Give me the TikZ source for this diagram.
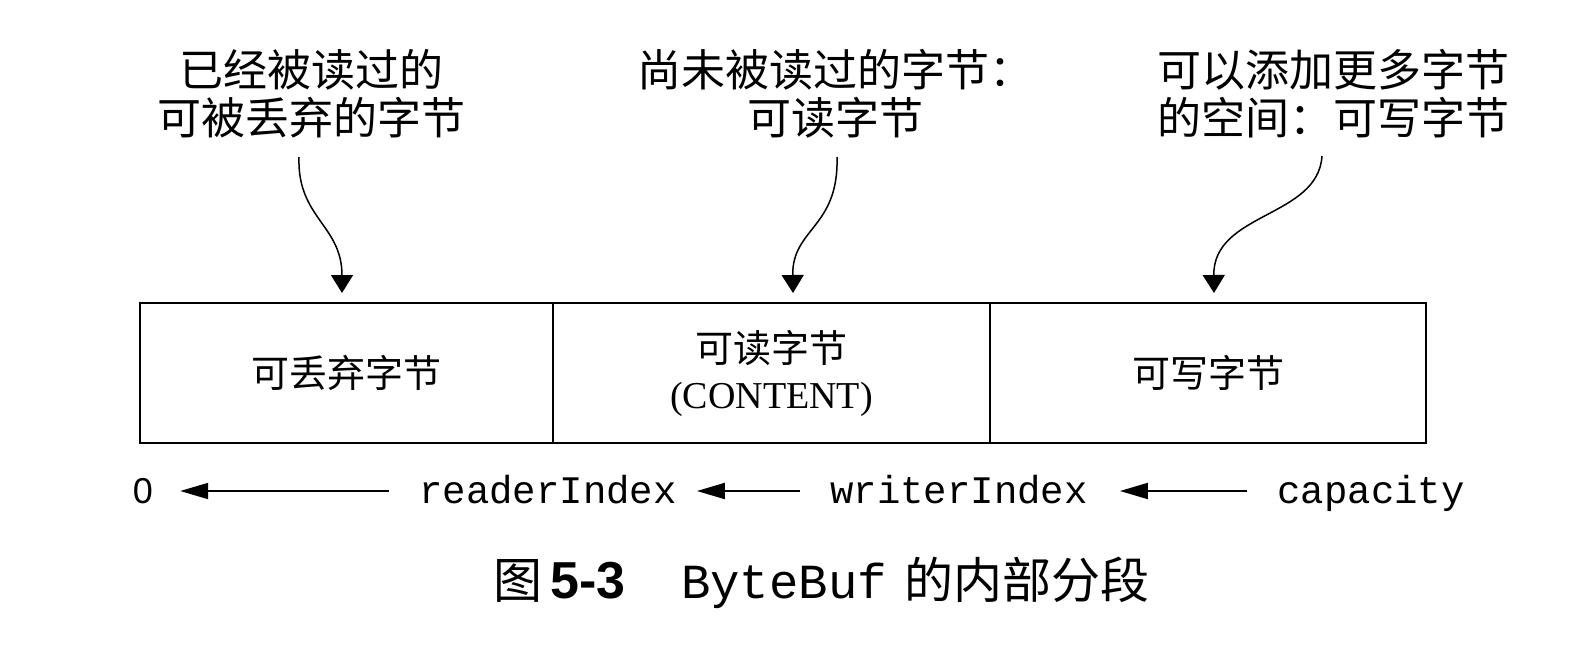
\documentclass[tikz,border=0pt]{standalone}
\usepackage{fontspec}
\setmainfont{Liberation Serif}
\setmonofont{Liberation Mono}
\newfontfamily\cjk{Noto Sans CJK SC}
\newfontfamily\arialf{Liberation Sans}
\usetikzlibrary{arrows.meta}
\begin{document}
\begin{tikzpicture}[x=1pt,y=-1pt,
  toplabel/.style={font=\cjk\fontsize{44}{48}\selectfont, align=center, inner sep=0pt},
  seg/.style={draw, line width=2.5pt, minimum height=140pt, inner sep=0pt, font=\fontsize{38}{46}\selectfont, align=center},
  curvearrow/.style={line width=1.5pt, -{Triangle[length=18pt,width=22pt]}},
  idx/.style={font=\ttfamily\fontsize{39}{39}\selectfont, anchor=base, inner sep=0pt},
  idxarrow/.style={line width=2pt, -{Triangle[length=28pt,width=16pt]}},
  captext/.style={anchor=base, inner sep=0pt}
]
\useasboundingbox (0,0) rectangle (1574,664);

% top labels
\node[toplabel] (l1) at (311,94) {已经被读过的\\可被丢弃的字节};
\node[toplabel] (l2) at (835,94) {尚未被读过的字节：\\可读字节};
\node[toplabel] (l3) at (1333,94) {可以添加更多字节\\的空间：可写字节};

% segments
\node[seg, minimum width=413pt] (s1) at (346.5,373) {\cjk 可丢弃字节};
\node[seg, minimum width=437pt] (s2) at (771.5,373) {{\cjk 可读字节}\\(CONTENT)};
\node[seg, minimum width=436pt] (s3) at (1208,373) {\cjk 可写字节};

% curved arrows
\coordinate (a1) at (299,157);
\coordinate (b1) at (342,293);
\coordinate (a2) at (837,157);
\coordinate (b2) at (793,293);
\coordinate (a3) at (1322,156);
\coordinate (b3) at (1214,293);
\draw[curvearrow] (a1) .. controls (297,218) and (342,225) .. (b1);
\draw[curvearrow] (a2) .. controls (839,228) and (792,228) .. (b2);
\draw[curvearrow] (a3) .. controls (1318,218) and (1213,212) .. (b3);

% index row
\node[captext, font=\arialf\fontsize{36}{36}\selectfont] (zero) at (143,503) {0};
\node[idx] (ri) at (548,503) {readerIndex};
\node[idx] (wi) at (959,503) {writerIndex};
\node[idx] (cp) at (1371,503) {capacity};
\draw[idxarrow] ([shift={(-30,-12)}]ri.base west) -- ([shift={(27,-12)}]zero.base east);
\draw[idxarrow] ([shift={(-30,-12)}]wi.base west) -- ([shift={(20,-12)}]ri.base east);
\draw[idxarrow] ([shift={(-30,-12)}]cp.base west) -- ([shift={(32,-12)}]wi.base east);

% caption
\node[captext, font=\cjk\fontsize{49}{49}\selectfont] (c1) at (518,598) {图};
\node[captext, font=\arialf\bfseries\fontsize{52}{52}\selectfont] (c2) at (588,598) {5-3};
\node[captext, font=\ttfamily\fontsize{49}{49}\selectfont] (c3) at (784,598) {ByteBuf};
\node[captext, font=\cjk\fontsize{49}{49}\selectfont] (c4) at (1027,598) {的内部分段};
\end{tikzpicture}
\end{document}
